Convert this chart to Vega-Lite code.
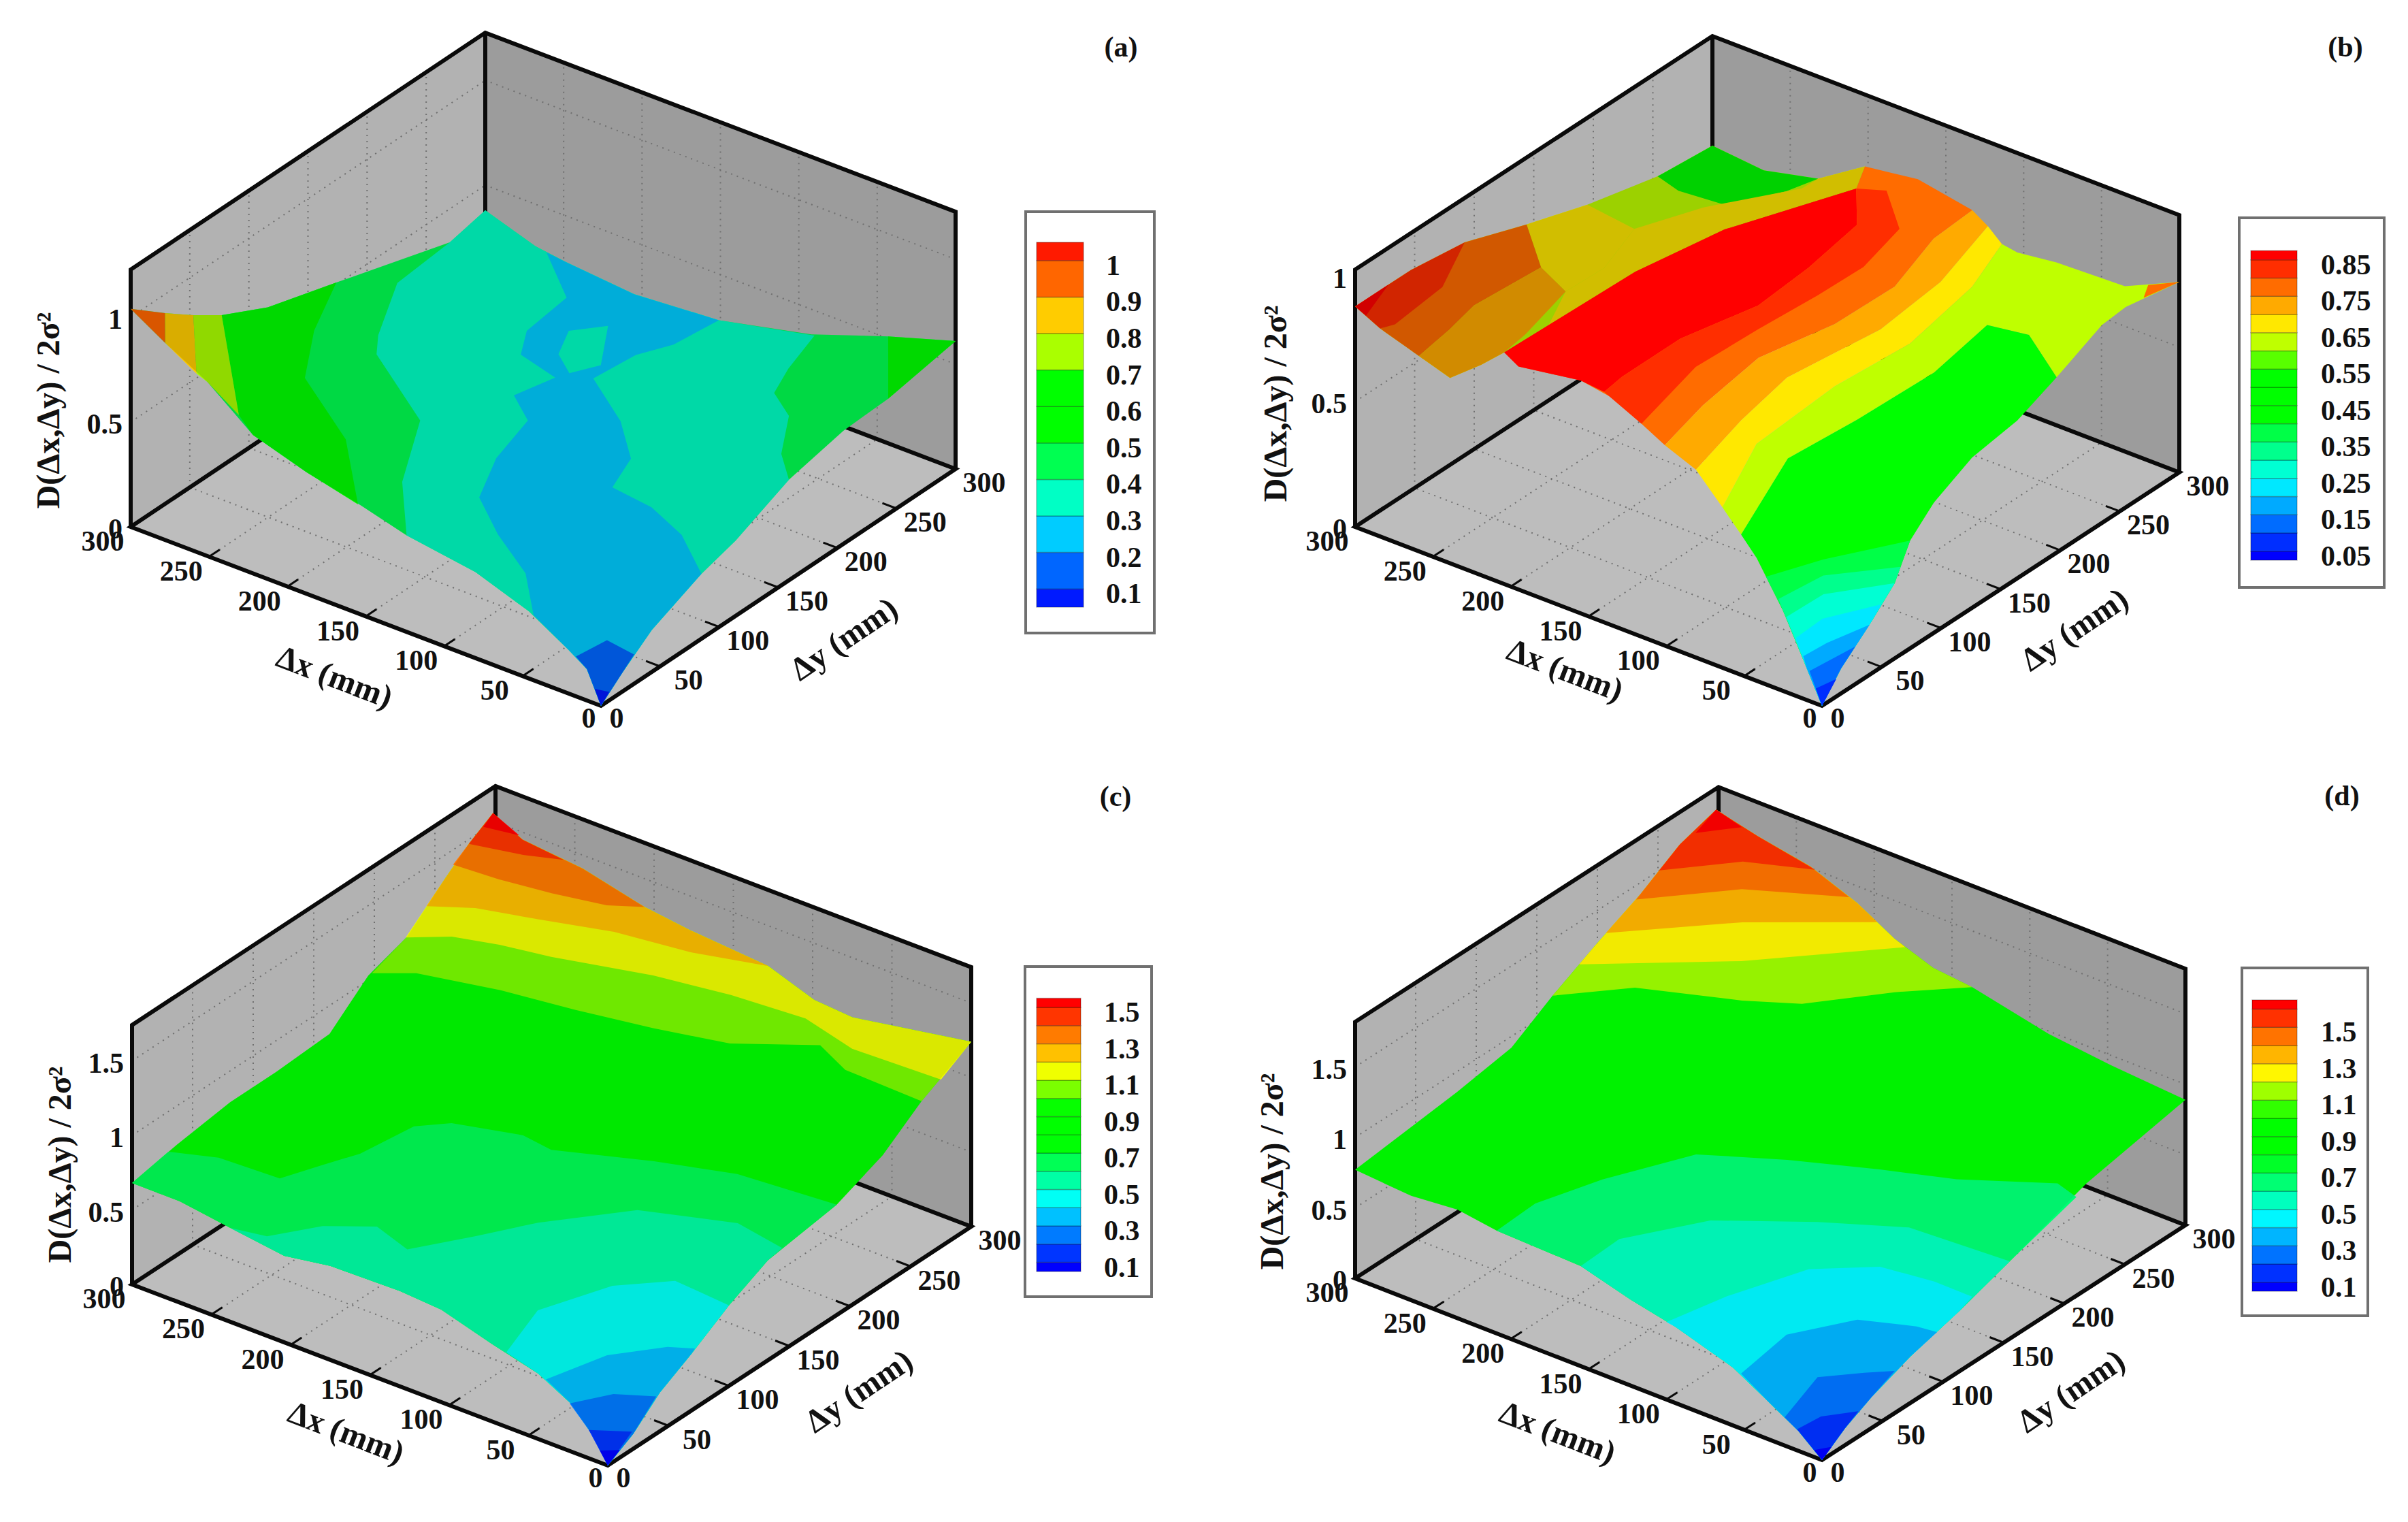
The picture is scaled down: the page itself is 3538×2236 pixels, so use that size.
{"$schema":"https://vega.github.io/schema/vega-lite/v6.json","autosize":{"type":"fit","contains":"padding"},"width":3538,"height":2236,"padding":0,"background":"white","config":{"view":{"stroke":null},"text":{"font":"Liberation Serif","fontWeight":"bold","color":"#111"}},
"params":[{"name":"P","value":{
"a":{"ox":883,"oy":1037,"xx":-691,"xy":-263,"yx":521,"yy":-348,"u":308,"zt":1.227,"tlo":0.05,"thi":1.05,"bx":1507,"bx2":1696,"by":311,"by2":930,"lx":1523,"lx2":1592,"l0":892,"lv":0.05,"lk":536,"tx":1625,"tagx":1647,"tagy":70,"xtx":491,"xty":996,"ytx":1241,"yty":940,"ztx":73,"zty":603},
"b":{"ox":2677,"oy":1037,"xx":-686,"xy":-263,"yx":525,"yy":-343,"u":368,"zt":1.027,"tlo":0.0375,"thi":0.8625,"bx":3290,"bx2":3503,"by":320,"by2":863,"lx":3307,"lx2":3375,"l0":823,"lv":0.025,"lk":535,"tx":3410,"tagx":3446,"tagy":70,"xtx":2299,"xty":986,"ytx":3049,"yty":926,"ztx":1876,"zty":593},
"c":{"ox":893,"oy":2153,"xx":-699,"xy":-266,"yx":534,"yy":-351,"u":219,"zt":1.74,"tlo":0.075,"thi":1.525,"bx":1506,"bx2":1692,"by":1420,"by2":1905,"lx":1523,"lx2":1588,"l0":1868,"lv":0.05,"lk":267.6,"tx":1622,"tagx":1639,"tagy":1171,"xtx":508,"xty":2106,"ytx":1263,"yty":2045,"ztx":90,"zty":1711},
"d":{"ox":2677,"oy":2145,"xx":-686,"xy":-267,"yx":534,"yy":-345,"u":207,"zt":1.82,"tlo":0.075,"thi":1.625,"bx":3294,"bx2":3479,"by":1422,"by2":1933,"lx":3309,"lx2":3375,"l0":1897,"lv":0.05,"lk":267.5,"tx":3410,"tagx":3441,"tagy":1170,"xtx":2288,"xty":2106,"ytx":3044,"yty":2045,"ztx":1871,"zty":1721}}}],
"datasets":{
"panels":[{"p":"a","tag":"(a)"},{"p":"b","tag":"(b)"},{"p":"c","tag":"(c)"},{"p":"d","tag":"(d)"}],
"shades":[{"g":"a01","k":0.15},{"g":"b01","k":0.18},{"g":"c01","k":0.09},{"g":"d01","k":0.05}],
"walls":[{"w":"floor","dx":0,"dy":0,"h":0},{"w":"floor","dx":300,"dy":0,"h":0},{"w":"floor","dx":300,"dy":300,"h":0},{"w":"floor","dx":0,"dy":300,"h":0},{"w":"left","dx":300,"dy":0,"h":0},{"w":"left","dx":300,"dy":300,"h":0},{"w":"left","dx":300,"dy":300,"h":1},{"w":"left","dx":300,"dy":0,"h":1},{"w":"right","dx":0,"dy":300,"h":0},{"w":"right","dx":300,"dy":300,"h":0},{"w":"right","dx":300,"dy":300,"h":1},{"w":"right","dx":0,"dy":300,"h":1}],
"edges":[{"w":"e1","dx":300,"dy":300,"h":0},{"w":"e1","dx":300,"dy":0,"h":0},{"w":"e1","dx":0,"dy":0,"h":0},{"w":"e1","dx":0,"dy":300,"h":0},{"w":"e1","dx":300,"dy":300,"h":0},{"w":"e1","dx":300,"dy":300,"h":1},{"w":"e2","dx":300,"dy":0,"h":0},{"w":"e2","dx":300,"dy":0,"h":1},{"w":"e2","dx":300,"dy":300,"h":1},{"w":"e2","dx":0,"dy":300,"h":1},{"w":"e2","dx":0,"dy":300,"h":0}],
"grid":[{"a":50,"b":0,"e":50,"f":300},{"a":100,"b":0,"e":100,"f":300},{"a":150,"b":0,"e":150,"f":300},{"a":200,"b":0,"e":200,"f":300},{"a":250,"b":0,"e":250,"f":300},{"a":0,"b":50,"e":300,"f":50},{"a":0,"b":100,"e":300,"f":100},{"a":0,"b":150,"e":300,"f":150},{"a":0,"b":200,"e":300,"f":200},{"a":0,"b":250,"e":300,"f":250},{"a":300,"b":50,"e":300,"f":50,"t":1},{"a":300,"b":100,"e":300,"f":100,"t":1},{"a":300,"b":150,"e":300,"f":150,"t":1},{"a":300,"b":200,"e":300,"f":200,"t":1},{"a":300,"b":250,"e":300,"f":250,"t":1},{"a":50,"b":300,"e":50,"f":300,"t":1},{"a":100,"b":300,"e":100,"f":300,"t":1},{"a":150,"b":300,"e":150,"f":300,"t":1},{"a":200,"b":300,"e":200,"f":300,"t":1},{"a":250,"b":300,"e":250,"f":300,"t":1}],
"zgrid":[{"p":"a","v":0.5},{"p":"a","v":1},{"p":"b","v":0.5},{"p":"c","v":0.5},{"p":"c","v":1},{"p":"c","v":1.5},{"p":"d","v":0.5},{"p":"d","v":1},{"p":"d","v":1.5}],
"ticks":[{"a":50,"b":0,"e":50,"f":9},{"a":100,"b":0,"e":100,"f":9},{"a":150,"b":0,"e":150,"f":9},{"a":200,"b":0,"e":200,"f":9},{"a":250,"b":0,"e":250,"f":9},{"a":0,"b":50,"e":9,"f":50},{"a":0,"b":100,"e":9,"f":100},{"a":0,"b":150,"e":9,"f":150},{"a":0,"b":200,"e":9,"f":200},{"a":0,"b":250,"e":9,"f":250}],
"axlab":[{"ax":"n","v":50},{"ax":"n","v":100},{"ax":"n","v":150},{"ax":"n","v":200},{"ax":"n","v":250},{"ax":"n","v":300}],
"zlab":[{"p":"a","v":0},{"p":"a","v":0.5},{"p":"a","v":1},{"p":"b","v":0},{"p":"b","v":0.5},{"p":"b","v":1},{"p":"c","v":0},{"p":"c","v":0.5},{"p":"c","v":1},{"p":"c","v":1.5},{"p":"d","v":0},{"p":"d","v":0.5},{"p":"d","v":1},{"p":"d","v":1.5}],
"titles":[{"p":"a","k":"x","t":"Δx (mm)"},{"p":"b","k":"x","t":"Δx (mm)"},{"p":"c","k":"x","t":"Δx (mm)"},{"p":"d","k":"x","t":"Δx (mm)"},{"p":"a","k":"y","t":"Δy (mm)"},{"p":"b","k":"y","t":"Δy (mm)"},{"p":"c","k":"y","t":"Δy (mm)"},{"p":"d","k":"y","t":"Δy (mm)"},{"p":"a","k":"z","t":"D(Δx,Δy) / 2σ²"},{"p":"b","k":"z","t":"D(Δx,Δy) / 2σ²"},{"p":"c","k":"z","t":"D(Δx,Δy) / 2σ²"},{"p":"d","k":"z","t":"D(Δx,Δy) / 2σ²"}],
"legband":[{"p":"a","lo":0.05,"hi":0.1},{"p":"a","lo":0.1,"hi":0.2},{"p":"a","lo":0.2,"hi":0.3},{"p":"a","lo":0.3,"hi":0.4},{"p":"a","lo":0.4,"hi":0.5},{"p":"a","lo":0.5,"hi":0.6},{"p":"a","lo":0.6,"hi":0.7},{"p":"a","lo":0.7,"hi":0.8},{"p":"a","lo":0.8,"hi":0.9},{"p":"a","lo":0.9,"hi":1},{"p":"a","lo":1,"hi":1.05},
{"p":"b","lo":0.025,"hi":0.05},{"p":"b","lo":0.05,"hi":0.1},{"p":"b","lo":0.1,"hi":0.15},{"p":"b","lo":0.15,"hi":0.2},{"p":"b","lo":0.2,"hi":0.25},{"p":"b","lo":0.25,"hi":0.3},{"p":"b","lo":0.3,"hi":0.35},{"p":"b","lo":0.35,"hi":0.4},{"p":"b","lo":0.4,"hi":0.45},{"p":"b","lo":0.45,"hi":0.5},{"p":"b","lo":0.5,"hi":0.55},{"p":"b","lo":0.55,"hi":0.6},{"p":"b","lo":0.6,"hi":0.65},{"p":"b","lo":0.65,"hi":0.7},{"p":"b","lo":0.7,"hi":0.75},{"p":"b","lo":0.75,"hi":0.8},{"p":"b","lo":0.8,"hi":0.85},{"p":"b","lo":0.85,"hi":0.875},
{"p":"c","lo":0.05,"hi":0.1},{"p":"c","lo":0.1,"hi":0.2},{"p":"c","lo":0.2,"hi":0.3},{"p":"c","lo":0.3,"hi":0.4},{"p":"c","lo":0.4,"hi":0.5},{"p":"c","lo":0.5,"hi":0.6},{"p":"c","lo":0.6,"hi":0.7},{"p":"c","lo":0.7,"hi":0.8},{"p":"c","lo":0.8,"hi":0.9},{"p":"c","lo":0.9,"hi":1},{"p":"c","lo":1,"hi":1.1},{"p":"c","lo":1.1,"hi":1.2},{"p":"c","lo":1.2,"hi":1.3},{"p":"c","lo":1.3,"hi":1.4},{"p":"c","lo":1.4,"hi":1.5},{"p":"c","lo":1.5,"hi":1.55},
{"p":"d","lo":0.05,"hi":0.1},{"p":"d","lo":0.1,"hi":0.2},{"p":"d","lo":0.2,"hi":0.3},{"p":"d","lo":0.3,"hi":0.4},{"p":"d","lo":0.4,"hi":0.5},{"p":"d","lo":0.5,"hi":0.6},{"p":"d","lo":0.6,"hi":0.7},{"p":"d","lo":0.7,"hi":0.8},{"p":"d","lo":0.8,"hi":0.9},{"p":"d","lo":0.9,"hi":1},{"p":"d","lo":1,"hi":1.1},{"p":"d","lo":1.1,"hi":1.2},{"p":"d","lo":1.2,"hi":1.3},{"p":"d","lo":1.3,"hi":1.4},{"p":"d","lo":1.4,"hi":1.5},{"p":"d","lo":1.5,"hi":1.6},{"p":"d","lo":1.6,"hi":1.65}],
"leglab":[{"p":"a","v":0.1},{"p":"a","v":0.2},{"p":"a","v":0.3},{"p":"a","v":0.4},{"p":"a","v":0.5},{"p":"a","v":0.6},{"p":"a","v":0.7},{"p":"a","v":0.8},{"p":"a","v":0.9},{"p":"a","v":1},{"p":"b","v":0.05},{"p":"b","v":0.15},{"p":"b","v":0.25},{"p":"b","v":0.35},{"p":"b","v":0.45},{"p":"b","v":0.55},{"p":"b","v":0.65},{"p":"b","v":0.75},{"p":"b","v":0.85},{"p":"c","v":0.1},{"p":"c","v":0.3},{"p":"c","v":0.5},{"p":"c","v":0.7},{"p":"c","v":0.9},{"p":"c","v":1.1},{"p":"c","v":1.3},{"p":"c","v":1.5},{"p":"d","v":0.1},{"p":"d","v":0.3},{"p":"d","v":0.5},{"p":"d","v":0.7},{"p":"d","v":0.9},{"p":"d","v":1.1},{"p":"d","v":1.3},{"p":"d","v":1.5}],
"polys":[{"g":"a01","band":0.45},{"g":"a02","band":0.55},{"g":"a03","band":0.75},{"g":"a04","band":0.85},{"g":"a05","band":0.95},{"g":"a06","band":0.55},{"g":"a07","band":0.35},{"g":"a08","band":0.25},{"g":"a09","band":0.35},{"g":"a10","band":0.15},{"g":"a11","band":0.075},
{"g":"b01","band":0.625},{"g":"b02","band":0.525},{"g":"b03","band":0.675},{"g":"b04","band":0.675},{"g":"b05","band":0.775},{"g":"b06","band":0.825},{"g":"b07","band":0.8625},{"g":"b08","band":0.725},{"g":"b09","band":0.775},{"g":"b10","band":0.8625},{"g":"b11","band":0.825},{"g":"b12","band":0.725},{"g":"b13","band":0.675},{"g":"b14","band":0.625},{"g":"b15","band":0.775},{"g":"b16","band":0.525},{"g":"b17","band":0.375},{"g":"b18","band":0.325},{"g":"b19","band":0.275},{"g":"b20","band":0.225},{"g":"b21","band":0.175},{"g":"b22","band":0.125},{"g":"b23","band":0.075},
{"g":"c01","band":0.85},{"g":"c02","band":1.05},{"g":"c03","band":1.15},{"g":"c04","band":1.25},{"g":"c05","band":1.35},{"g":"c06","band":1.45},{"g":"c07","band":1.525},{"g":"c08","band":0.65},{"g":"c09","band":0.55},{"g":"c10","band":0.45},{"g":"c11","band":0.35},{"g":"c12","band":0.25},{"g":"c13","band":0.15},{"g":"c14","band":0.075},
{"g":"d01","band":0.9},{"g":"d02","band":1.15},{"g":"d03","band":1.25},{"g":"d04","band":1.35},{"g":"d05","band":1.45},{"g":"d06","band":1.55},{"g":"d07","band":1.63},{"g":"d08","band":0.65},{"g":"d09","band":0.55},{"g":"d10","band":0.45},{"g":"d11","band":0.35},{"g":"d12","band":0.25},{"g":"d13","band":0.15},{"g":"d14","band":0.075}],
"surface":[
{"g":"a01","dx":0,"dy":0,"D":0},{"g":"a01","dx":9,"dy":0,"D":0.15},{"g":"a01","dx":21,"dy":0,"D":0.21},{"g":"a01","dx":46,"dy":0,"D":0.32},{"g":"a01","dx":80,"dy":0,"D":0.41},{"g":"a01","dx":124,"dy":0,"D":0.46},{"g":"a01","dx":153,"dy":0,"D":0.52},{"g":"a01","dx":188,"dy":0,"D":0.58},{"g":"a01","dx":222,"dy":0,"D":0.66},{"g":"a01","dx":251,"dy":0,"D":0.83},{"g":"a01","dx":278,"dy":0,"D":0.94},{"g":"a01","dx":300,"dy":0,"D":1.04},{"g":"a01","dx":300,"dy":29,"D":0.91},{"g":"a01","dx":300,"dy":53,"D":0.81},{"g":"a01","dx":300,"dy":77,"D":0.72},{"g":"a01","dx":300,"dy":116,"D":0.61},{"g":"a01","dx":300,"dy":174,"D":0.51},{"g":"a01","dx":300,"dy":270,"D":0.34},{"g":"a01","dx":300,"dy":300,"D":0.38},{"g":"a01","dx":268,"dy":300,"D":0.3},{"g":"a01","dx":249,"dy":300,"D":0.28},{"g":"a01","dx":205,"dy":300,"D":0.25},{"g":"a01","dx":151,"dy":300,"D":0.28},{"g":"a01","dx":92,"dy":300,"D":0.38},{"g":"a01","dx":43,"dy":300,"D":0.51},{"g":"a01","dx":0,"dy":300,"D":0.61},{"g":"a01","dx":0,"dy":243,"D":0.55},{"g":"a01","dx":0,"dy":205,"D":0.54},{"g":"a01","dx":0,"dy":159,"D":0.48},{"g":"a01","dx":0,"dy":114,"D":0.36},{"g":"a01","dx":0,"dy":85,"D":0.31},{"g":"a01","dx":0,"dy":43,"D":0.2},{"g":"a01","dx":0,"dy":18,"D":0.09},
{"g":"a02","dx":300,"dy":174,"D":0.51},{"g":"a02","dx":281,"dy":130,"D":0.5},{"g":"a02","dx":256,"dy":89,"D":0.5},{"g":"a02","dx":202,"dy":52,"D":0.5},{"g":"a02","dx":155,"dy":0,"D":0.52},{"g":"a02","dx":188,"dy":0,"D":0.58},{"g":"a02","dx":222,"dy":0,"D":0.66},{"g":"a02","dx":231,"dy":0,"D":0.73},{"g":"a02","dx":300,"dy":77,"D":0.72},{"g":"a02","dx":300,"dy":116,"D":0.61},
{"g":"a03","dx":231,"dy":0,"D":0.73},{"g":"a03","dx":251,"dy":0,"D":0.83},{"g":"a03","dx":258,"dy":0,"D":0.85},{"g":"a03","dx":300,"dy":53,"D":0.81},{"g":"a03","dx":300,"dy":77,"D":0.72},
{"g":"a04","dx":258,"dy":0,"D":0.85},{"g":"a04","dx":278,"dy":0,"D":0.94},{"g":"a04","dx":300,"dy":29,"D":0.91},{"g":"a04","dx":300,"dy":53,"D":0.81},
{"g":"a05","dx":278,"dy":0,"D":0.94},{"g":"a05","dx":300,"dy":0,"D":1.04},{"g":"a05","dx":300,"dy":29,"D":0.91},
{"g":"a06","dx":43,"dy":300,"D":0.51},{"g":"a06","dx":0,"dy":300,"D":0.61},{"g":"a06","dx":0,"dy":243,"D":0.55},
{"g":"a07","dx":300,"dy":270,"D":0.34},{"g":"a07","dx":289,"dy":211,"D":0.4},{"g":"a07","dx":265,"dy":163,"D":0.4},{"g":"a07","dx":254,"dy":147,"D":0.4},{"g":"a07","dx":196,"dy":107,"D":0.4},{"g":"a07","dx":166,"dy":52,"D":0.4},{"g":"a07","dx":124,"dy":0,"D":0.46},{"g":"a07","dx":80,"dy":0,"D":0.41},{"g":"a07","dx":46,"dy":0,"D":0.32},{"g":"a07","dx":21,"dy":0,"D":0.21},{"g":"a07","dx":9,"dy":0,"D":0.15},{"g":"a07","dx":0,"dy":0,"D":0},{"g":"a07","dx":0,"dy":18,"D":0.09},{"g":"a07","dx":0,"dy":43,"D":0.2},{"g":"a07","dx":0,"dy":85,"D":0.31},{"g":"a07","dx":0,"dy":114,"D":0.36},{"g":"a07","dx":0,"dy":159,"D":0.48},{"g":"a07","dx":29,"dy":191,"D":0.4},{"g":"a07","dx":49,"dy":224,"D":0.4},{"g":"a07","dx":69,"dy":238,"D":0.4},{"g":"a07","dx":78,"dy":262,"D":0.4},{"g":"a07","dx":90,"dy":300,"D":0.38},{"g":"a07","dx":151,"dy":300,"D":0.28},{"g":"a07","dx":205,"dy":300,"D":0.25},{"g":"a07","dx":249,"dy":300,"D":0.28},{"g":"a07","dx":268,"dy":300,"D":0.3},{"g":"a07","dx":300,"dy":300,"D":0.38},
{"g":"a08","dx":261,"dy":300,"D":0.29},{"g":"a08","dx":224,"dy":268,"D":0.3},{"g":"a08","dx":220,"dy":229,"D":0.3},{"g":"a08","dx":208,"dy":208,"D":0.3},{"g":"a08","dx":180,"dy":200,"D":0.3},{"g":"a08","dx":186,"dy":173,"D":0.3},{"g":"a08","dx":165,"dy":157,"D":0.3},{"g":"a08","dx":155,"dy":117,"D":0.3},{"g":"a08","dx":138,"dy":80,"D":0.3},{"g":"a08","dx":108,"dy":56,"D":0.3},{"g":"a08","dx":73,"dy":33,"D":0.3},{"g":"a08","dx":43,"dy":0,"D":0.31},{"g":"a08","dx":21,"dy":0,"D":0.21},{"g":"a08","dx":9,"dy":0,"D":0.15},{"g":"a08","dx":0,"dy":0,"D":0},{"g":"a08","dx":0,"dy":18,"D":0.09},{"g":"a08","dx":0,"dy":43,"D":0.2},{"g":"a08","dx":0,"dy":85,"D":0.31},{"g":"a08","dx":33,"dy":112,"D":0.3},{"g":"a08","dx":62,"dy":125,"D":0.3},{"g":"a08","dx":90,"dy":129,"D":0.3},{"g":"a08","dx":100,"dy":158,"D":0.3},{"g":"a08","dx":127,"dy":185,"D":0.3},{"g":"a08","dx":164,"dy":211,"D":0.3},{"g":"a08","dx":161,"dy":243,"D":0.3},{"g":"a08","dx":152,"dy":263,"D":0.3},{"g":"a08","dx":151,"dy":300,"D":0.28},{"g":"a08","dx":205,"dy":300,"D":0.25},{"g":"a08","dx":249,"dy":300,"D":0.28},
{"g":"a09","dx":203,"dy":242,"D":0.3},{"g":"a09","dx":190,"dy":258,"D":0.3},{"g":"a09","dx":169,"dy":224,"D":0.3},{"g":"a09","dx":177,"dy":208,"D":0.3},{"g":"a09","dx":193,"dy":220,"D":0.3},
{"g":"a10","dx":16,"dy":0,"D":0.19},{"g":"a10","dx":12,"dy":21,"D":0.2},{"g":"a10","dx":0,"dy":28,"D":0.14},{"g":"a10","dx":0,"dy":18,"D":0.09},{"g":"a10","dx":0,"dy":0,"D":0},{"g":"a10","dx":9,"dy":0,"D":0.15},
{"g":"a11","dx":4,"dy":0,"D":0.07},{"g":"a11","dx":0,"dy":7,"D":0.04},{"g":"a11","dx":0,"dy":0,"D":0},
{"g":"b01","dx":300,"dy":0,"D":0.88},{"g":"b01","dx":300,"dy":47,"D":0.88},{"g":"b01","dx":300,"dy":92,"D":0.85},{"g":"b01","dx":300,"dy":144,"D":0.76},{"g":"b01","dx":300,"dy":195,"D":0.68},{"g":"b01","dx":300,"dy":254,"D":0.61},{"g":"b01","dx":300,"dy":300,"D":0.59},{"g":"b01","dx":267,"dy":300,"D":0.57},{"g":"b01","dx":232,"dy":300,"D":0.62},{"g":"b01","dx":202,"dy":300,"D":0.74},{"g":"b01","dx":167,"dy":247,"D":0.9},{"g":"b01","dx":195,"dy":173,"D":0.9},{"g":"b01","dx":205,"dy":111,"D":0.9},{"g":"b01","dx":207,"dy":41,"D":0.9},{"g":"b01","dx":208,"dy":5,"D":0.9},{"g":"b01","dx":219,"dy":0,"D":0.84},{"g":"b01","dx":239,"dy":0,"D":0.74},{"g":"b01","dx":259,"dy":0,"D":0.78},{"g":"b01","dx":284,"dy":0,"D":0.83},
{"g":"b02","dx":300,"dy":254,"D":0.61},{"g":"b02","dx":300,"dy":300,"D":0.59},{"g":"b02","dx":267,"dy":300,"D":0.57},{"g":"b02","dx":232,"dy":300,"D":0.62},{"g":"b02","dx":248,"dy":294,"D":0.55},{"g":"b02","dx":264,"dy":264,"D":0.55},{"g":"b02","dx":292,"dy":261,"D":0.55},
{"g":"b03","dx":300,"dy":144,"D":0.76},{"g":"b03","dx":300,"dy":195,"D":0.68},{"g":"b03","dx":266,"dy":190,"D":0.68},{"g":"b03","dx":254,"dy":149,"D":0.68},{"g":"b03","dx":255,"dy":118,"D":0.68},{"g":"b03","dx":280,"dy":130,"D":0.68},
{"g":"b04","dx":255,"dy":118,"D":0.68},{"g":"b04","dx":254,"dy":149,"D":0.68},{"g":"b04","dx":266,"dy":190,"D":0.68},{"g":"b04","dx":256,"dy":235,"D":0.65},{"g":"b04","dx":228,"dy":281,"D":0.65},{"g":"b04","dx":232,"dy":300,"D":0.62},{"g":"b04","dx":202,"dy":300,"D":0.74},{"g":"b04","dx":167,"dy":247,"D":0.9},{"g":"b04","dx":195,"dy":173,"D":0.9},{"g":"b04","dx":205,"dy":111,"D":0.9},{"g":"b04","dx":207,"dy":41,"D":0.9},
{"g":"b05","dx":300,"dy":92,"D":0.85},{"g":"b05","dx":300,"dy":144,"D":0.76},{"g":"b05","dx":280,"dy":130,"D":0.68},{"g":"b05","dx":268,"dy":58,"D":0.78},{"g":"b05","dx":263,"dy":31,"D":0.78},{"g":"b05","dx":259,"dy":0,"D":0.78},{"g":"b05","dx":284,"dy":0,"D":0.83},
{"g":"b06","dx":300,"dy":0,"D":0.88},{"g":"b06","dx":300,"dy":47,"D":0.88},{"g":"b06","dx":300,"dy":92,"D":0.85},{"g":"b06","dx":286,"dy":55,"D":0.82},{"g":"b06","dx":282,"dy":10,"D":0.82},{"g":"b06","dx":284,"dy":0,"D":0.83},
{"g":"b07","dx":300,"dy":0,"D":0.88},{"g":"b07","dx":300,"dy":28,"D":0.88},{"g":"b07","dx":293,"dy":0,"D":0.86},
{"g":"b08","dx":259,"dy":0,"D":0.78},{"g":"b08","dx":239,"dy":0,"D":0.74},{"g":"b08","dx":219,"dy":0,"D":0.84},{"g":"b08","dx":208,"dy":5,"D":0.9},{"g":"b08","dx":234,"dy":57,"D":0.75},{"g":"b08","dx":255,"dy":118,"D":0.68},{"g":"b08","dx":280,"dy":130,"D":0.68},{"g":"b08","dx":268,"dy":58,"D":0.78},{"g":"b08","dx":263,"dy":31,"D":0.78},
{"g":"b09","dx":208,"dy":5,"D":0.9},{"g":"b09","dx":207,"dy":41,"D":0.9},{"g":"b09","dx":205,"dy":111,"D":0.9},{"g":"b09","dx":195,"dy":173,"D":0.9},{"g":"b09","dx":167,"dy":247,"D":0.9},{"g":"b09","dx":202,"dy":300,"D":0.74},{"g":"b09","dx":168,"dy":300,"D":0.77},{"g":"b09","dx":133,"dy":300,"D":0.73},{"g":"b09","dx":128,"dy":261,"D":0.75},{"g":"b09","dx":114,"dy":210,"D":0.75},{"g":"b09","dx":115,"dy":161,"D":0.75},{"g":"b09","dx":125,"dy":110,"D":0.75},{"g":"b09","dx":118,"dy":54,"D":0.75},{"g":"b09","dx":101,"dy":0,"D":0.8},{"g":"b09","dx":116,"dy":0,"D":0.85},{"g":"b09","dx":136,"dy":0,"D":0.91},{"g":"b09","dx":155,"dy":0,"D":0.93},{"g":"b09","dx":195,"dy":0,"D":0.89},
{"g":"b10","dx":208,"dy":5,"D":0.9},{"g":"b10","dx":207,"dy":41,"D":0.9},{"g":"b10","dx":205,"dy":111,"D":0.9},{"g":"b10","dx":195,"dy":173,"D":0.9},{"g":"b10","dx":167,"dy":247,"D":0.9},{"g":"b10","dx":152,"dy":228,"D":0.85},{"g":"b10","dx":145,"dy":178,"D":0.85},{"g":"b10","dx":142,"dy":132,"D":0.85},{"g":"b10","dx":153,"dy":81,"D":0.85},{"g":"b10","dx":153,"dy":32,"D":0.85},{"g":"b10","dx":140,"dy":0,"D":0.92},{"g":"b10","dx":155,"dy":0,"D":0.93},{"g":"b10","dx":195,"dy":0,"D":0.89},
{"g":"b11","dx":167,"dy":247,"D":0.9},{"g":"b11","dx":152,"dy":228,"D":0.85},{"g":"b11","dx":145,"dy":178,"D":0.85},{"g":"b11","dx":142,"dy":132,"D":0.85},{"g":"b11","dx":153,"dy":81,"D":0.85},{"g":"b11","dx":153,"dy":32,"D":0.85},{"g":"b11","dx":140,"dy":0,"D":0.92},{"g":"b11","dx":116,"dy":0,"D":0.85},{"g":"b11","dx":137,"dy":73,"D":0.8},{"g":"b11","dx":135,"dy":123,"D":0.8},{"g":"b11","dx":132,"dy":169,"D":0.8},{"g":"b11","dx":131,"dy":206,"D":0.8},{"g":"b11","dx":140,"dy":248,"D":0.8},{"g":"b11","dx":169,"dy":275,"D":0.8},
{"g":"b12","dx":133,"dy":300,"D":0.73},{"g":"b12","dx":128,"dy":261,"D":0.75},{"g":"b12","dx":114,"dy":210,"D":0.75},{"g":"b12","dx":115,"dy":161,"D":0.75},{"g":"b12","dx":125,"dy":110,"D":0.75},{"g":"b12","dx":118,"dy":54,"D":0.75},{"g":"b12","dx":101,"dy":0,"D":0.8},{"g":"b12","dx":81,"dy":0,"D":0.75},{"g":"b12","dx":101,"dy":64,"D":0.7},{"g":"b12","dx":109,"dy":113,"D":0.7},{"g":"b12","dx":101,"dy":181,"D":0.7},{"g":"b12","dx":106,"dy":238,"D":0.7},{"g":"b12","dx":123,"dy":300,"D":0.69},
{"g":"b13","dx":123,"dy":300,"D":0.69},{"g":"b13","dx":106,"dy":238,"D":0.7},{"g":"b13","dx":101,"dy":181,"D":0.7},{"g":"b13","dx":109,"dy":113,"D":0.7},{"g":"b13","dx":101,"dy":64,"D":0.7},{"g":"b13","dx":81,"dy":0,"D":0.75},{"g":"b13","dx":64,"dy":0,"D":0.64},{"g":"b13","dx":88,"dy":60,"D":0.65},{"g":"b13","dx":92,"dy":131,"D":0.65},{"g":"b13","dx":88,"dy":189,"D":0.65},{"g":"b13","dx":98,"dy":254,"D":0.65},{"g":"b13","dx":114,"dy":300,"D":0.64},
{"g":"b14","dx":114,"dy":300,"D":0.64},{"g":"b14","dx":98,"dy":254,"D":0.65},{"g":"b14","dx":88,"dy":189,"D":0.65},{"g":"b14","dx":92,"dy":131,"D":0.65},{"g":"b14","dx":88,"dy":60,"D":0.65},{"g":"b14","dx":64,"dy":0,"D":0.64},{"g":"b14","dx":52,"dy":0,"D":0.56},{"g":"b14","dx":74,"dy":68,"D":0.6},{"g":"b14","dx":70,"dy":121,"D":0.6},{"g":"b14","dx":68,"dy":183,"D":0.6},{"g":"b14","dx":76,"dy":238,"D":0.6},{"g":"b14","dx":53,"dy":243,"D":0.6},{"g":"b14","dx":0,"dy":197,"D":0.7},{"g":"b14","dx":0,"dy":235,"D":0.79},{"g":"b14","dx":0,"dy":255,"D":0.8},{"g":"b14","dx":0,"dy":300,"D":0.76},{"g":"b14","dx":35,"dy":300,"D":0.66},{"g":"b14","dx":79,"dy":300,"D":0.65},{"g":"b14","dx":104,"dy":300,"D":0.63},
{"g":"b15","dx":0,"dy":300,"D":0.76},{"g":"b15","dx":0,"dy":270,"D":0.79},{"g":"b15","dx":20,"dy":300,"D":0.7},
{"g":"b16","dx":52,"dy":0,"D":0.56},{"g":"b16","dx":74,"dy":68,"D":0.6},{"g":"b16","dx":70,"dy":121,"D":0.6},{"g":"b16","dx":68,"dy":183,"D":0.6},{"g":"b16","dx":76,"dy":238,"D":0.6},{"g":"b16","dx":53,"dy":243,"D":0.6},{"g":"b16","dx":0,"dy":197,"D":0.7},{"g":"b16","dx":0,"dy":164,"D":0.63},{"g":"b16","dx":0,"dy":126,"D":0.6},{"g":"b16","dx":0,"dy":94,"D":0.52},{"g":"b16","dx":0,"dy":74,"D":0.43},{"g":"b16","dx":0,"dy":61,"D":0.3},{"g":"b16","dx":0,"dy":42,"D":0.21},{"g":"b16","dx":0,"dy":16,"D":0.1},{"g":"b16","dx":0,"dy":0,"D":0},{"g":"b16","dx":10,"dy":0,"D":0.13},{"g":"b16","dx":25,"dy":0,"D":0.32},{"g":"b16","dx":42,"dy":0,"D":0.49},
{"g":"b17","dx":36,"dy":0,"D":0.43},{"g":"b17","dx":28,"dy":38,"D":0.4},{"g":"b17","dx":0,"dy":74,"D":0.43},{"g":"b17","dx":0,"dy":61,"D":0.3},{"g":"b17","dx":0,"dy":42,"D":0.21},{"g":"b17","dx":0,"dy":16,"D":0.1},{"g":"b17","dx":0,"dy":0,"D":0},{"g":"b17","dx":10,"dy":0,"D":0.13},{"g":"b17","dx":25,"dy":0,"D":0.32},
{"g":"b18","dx":28,"dy":0,"D":0.36},{"g":"b18","dx":26,"dy":35,"D":0.35},{"g":"b18","dx":0,"dy":66,"D":0.35},{"g":"b18","dx":0,"dy":61,"D":0.3},{"g":"b18","dx":0,"dy":42,"D":0.21},{"g":"b18","dx":0,"dy":16,"D":0.1},{"g":"b18","dx":0,"dy":0,"D":0},{"g":"b18","dx":10,"dy":0,"D":0.13},{"g":"b18","dx":25,"dy":0,"D":0.32},
{"g":"b19","dx":23,"dy":0,"D":0.3},{"g":"b19","dx":22,"dy":30,"D":0.3},{"g":"b19","dx":0,"dy":61,"D":0.3},{"g":"b19","dx":0,"dy":42,"D":0.21},{"g":"b19","dx":0,"dy":16,"D":0.1},{"g":"b19","dx":0,"dy":0,"D":0},{"g":"b19","dx":10,"dy":0,"D":0.13},
{"g":"b20","dx":17,"dy":0,"D":0.23},{"g":"b20","dx":15,"dy":20,"D":0.25},{"g":"b20","dx":0,"dy":50,"D":0.25},{"g":"b20","dx":0,"dy":42,"D":0.21},{"g":"b20","dx":0,"dy":16,"D":0.1},{"g":"b20","dx":0,"dy":0,"D":0},{"g":"b20","dx":10,"dy":0,"D":0.13},
{"g":"b21","dx":12,"dy":0,"D":0.17},{"g":"b21","dx":6,"dy":12,"D":0.2},{"g":"b21","dx":0,"dy":40,"D":0.2},{"g":"b21","dx":0,"dy":16,"D":0.1},{"g":"b21","dx":0,"dy":0,"D":0},{"g":"b21","dx":10,"dy":0,"D":0.13},
{"g":"b22","dx":8,"dy":0,"D":0.12},{"g":"b22","dx":0,"dy":28,"D":0.15},{"g":"b22","dx":0,"dy":16,"D":0.1},{"g":"b22","dx":0,"dy":0,"D":0},
{"g":"b23","dx":4,"dy":0,"D":0.06},{"g":"b23","dx":0,"dy":12,"D":0.07},{"g":"b23","dx":0,"dy":0,"D":0},
{"g":"c01","dx":0,"dy":0,"D":0},{"g":"c01","dx":10,"dy":0,"D":0.17},{"g":"c01","dx":23,"dy":0,"D":0.32},{"g":"c01","dx":44,"dy":0,"D":0.44},{"g":"c01","dx":73,"dy":0,"D":0.52},{"g":"c01","dx":105,"dy":0,"D":0.62},{"g":"c01","dx":131,"dy":0,"D":0.64},{"g":"c01","dx":175,"dy":0,"D":0.63},{"g":"c01","dx":204,"dy":0,"D":0.58},{"g":"c01","dx":238,"dy":0,"D":0.63},{"g":"c01","dx":270,"dy":0,"D":0.68},{"g":"c01","dx":300,"dy":0,"D":0.68},{"g":"c01","dx":300,"dy":37,"D":0.74},{"g":"c01","dx":300,"dy":81,"D":0.79},{"g":"c01","dx":300,"dy":119,"D":0.79},{"g":"c01","dx":300,"dy":163,"D":0.81},{"g":"c01","dx":300,"dy":195,"D":1.03},{"g":"c01","dx":300,"dy":227,"D":1.12},{"g":"c01","dx":300,"dy":258,"D":1.34},{"g":"c01","dx":300,"dy":278,"D":1.47},{"g":"c01","dx":300,"dy":298,"D":1.57},{"g":"c01","dx":283,"dy":300,"D":1.45},{"g":"c01","dx":245,"dy":300,"D":1.41},{"g":"c01","dx":206,"dy":300,"D":1.31},{"g":"c01","dx":177,"dy":300,"D":1.27},{"g":"c01","dx":128,"dy":300,"D":1.23},{"g":"c01","dx":99,"dy":300,"D":1.12},{"g":"c01","dx":75,"dy":300,"D":1.1},{"g":"c01","dx":0,"dy":300,"D":1.24},{"g":"c01","dx":0,"dy":259,"D":1.06},{"g":"c01","dx":0,"dy":227,"D":0.87},{"g":"c01","dx":0,"dy":189,"D":0.74},{"g":"c01","dx":0,"dy":132,"D":0.67},{"g":"c01","dx":0,"dy":100,"D":0.54},{"g":"c01","dx":0,"dy":69,"D":0.38},{"g":"c01","dx":0,"dy":43,"D":0.26},{"g":"c01","dx":0,"dy":21,"D":0.1},
{"g":"c02","dx":300,"dy":198,"D":1.03},{"g":"c02","dx":285,"dy":215,"D":1},{"g":"c02","dx":241,"dy":227,"D":1},{"g":"c02","dx":199,"dy":234,"D":1},{"g":"c02","dx":157,"dy":243,"D":1},{"g":"c02","dx":117,"dy":254,"D":1},{"g":"c02","dx":80,"dy":280,"D":1},{"g":"c02","dx":55,"dy":268,"D":1},{"g":"c02","dx":0,"dy":259,"D":1.06},{"g":"c02","dx":0,"dy":300,"D":1.24},{"g":"c02","dx":75,"dy":300,"D":1.1},{"g":"c02","dx":99,"dy":300,"D":1.12},{"g":"c02","dx":128,"dy":300,"D":1.23},{"g":"c02","dx":177,"dy":300,"D":1.27},{"g":"c02","dx":206,"dy":300,"D":1.31},{"g":"c02","dx":245,"dy":300,"D":1.41},{"g":"c02","dx":283,"dy":300,"D":1.45},{"g":"c02","dx":300,"dy":298,"D":1.57},{"g":"c02","dx":300,"dy":278,"D":1.47},{"g":"c02","dx":300,"dy":258,"D":1.34},{"g":"c02","dx":300,"dy":227,"D":1.12},
{"g":"c03","dx":300,"dy":226,"D":1.12},{"g":"c03","dx":284,"dy":243,"D":1.1},{"g":"c03","dx":260,"dy":251,"D":1.1},{"g":"c03","dx":232,"dy":257,"D":1.1},{"g":"c03","dx":180,"dy":273,"D":1.1},{"g":"c03","dx":137,"dy":281,"D":1.1},{"g":"c03","dx":93,"dy":285,"D":1.1},{"g":"c03","dx":56,"dy":275,"D":1.1},{"g":"c03","dx":32,"dy":276,"D":1.1},{"g":"c03","dx":0,"dy":275,"D":1.12},{"g":"c03","dx":0,"dy":300,"D":1.24},{"g":"c03","dx":75,"dy":300,"D":1.1},{"g":"c03","dx":99,"dy":300,"D":1.12},{"g":"c03","dx":128,"dy":300,"D":1.23},{"g":"c03","dx":177,"dy":300,"D":1.27},{"g":"c03","dx":206,"dy":300,"D":1.31},{"g":"c03","dx":245,"dy":300,"D":1.41},{"g":"c03","dx":283,"dy":300,"D":1.45},{"g":"c03","dx":300,"dy":298,"D":1.57},{"g":"c03","dx":300,"dy":278,"D":1.47},{"g":"c03","dx":300,"dy":258,"D":1.34},
{"g":"c04","dx":300,"dy":243,"D":1.24},{"g":"c04","dx":283,"dy":261,"D":1.2},{"g":"c04","dx":251,"dy":271,"D":1.2},{"g":"c04","dx":213,"dy":284,"D":1.2},{"g":"c04","dx":170,"dy":291,"D":1.2},{"g":"c04","dx":128,"dy":300,"D":1.23},{"g":"c04","dx":177,"dy":300,"D":1.27},{"g":"c04","dx":206,"dy":300,"D":1.31},{"g":"c04","dx":245,"dy":300,"D":1.41},{"g":"c04","dx":283,"dy":300,"D":1.45},{"g":"c04","dx":300,"dy":298,"D":1.57},{"g":"c04","dx":300,"dy":278,"D":1.47},{"g":"c04","dx":300,"dy":258,"D":1.34},
{"g":"c05","dx":300,"dy":265,"D":1.4},{"g":"c05","dx":282,"dy":279,"D":1.3},{"g":"c05","dx":252,"dy":284,"D":1.3},{"g":"c05","dx":223,"dy":291,"D":1.3},{"g":"c05","dx":206,"dy":300,"D":1.31},{"g":"c05","dx":245,"dy":300,"D":1.41},{"g":"c05","dx":283,"dy":300,"D":1.45},{"g":"c05","dx":300,"dy":298,"D":1.57},{"g":"c05","dx":300,"dy":278,"D":1.47},
{"g":"c06","dx":300,"dy":278,"D":1.47},{"g":"c06","dx":278,"dy":294,"D":1.4},{"g":"c06","dx":257,"dy":300,"D":1.42},{"g":"c06","dx":283,"dy":300,"D":1.45},{"g":"c06","dx":300,"dy":298,"D":1.57},
{"g":"c07","dx":300,"dy":290,"D":1.52},{"g":"c07","dx":285,"dy":300,"D":1.47},{"g":"c07","dx":300,"dy":298,"D":1.57},
{"g":"c08","dx":300,"dy":0,"D":0.68},{"g":"c08","dx":300,"dy":30,"D":0.73},{"g":"c08","dx":279,"dy":44,"D":0.7},{"g":"c08","dx":242,"dy":46,"D":0.7},{"g":"c08","dx":233,"dy":70,"D":0.7},{"g":"c08","dx":225,"dy":90,"D":0.7},{"g":"c08","dx":220,"dy":128,"D":0.7},{"g":"c08","dx":207,"dy":142,"D":0.7},{"g":"c08","dx":171,"dy":154,"D":0.7},{"g":"c08","dx":151,"dy":151,"D":0.7},{"g":"c08","dx":103,"dy":173,"D":0.7},{"g":"c08","dx":62,"dy":188,"D":0.7},{"g":"c08","dx":0,"dy":189,"D":0.74},{"g":"c08","dx":0,"dy":132,"D":0.67},{"g":"c08","dx":0,"dy":100,"D":0.54},{"g":"c08","dx":0,"dy":69,"D":0.38},{"g":"c08","dx":0,"dy":43,"D":0.26},{"g":"c08","dx":0,"dy":21,"D":0.1},{"g":"c08","dx":0,"dy":0,"D":0},{"g":"c08","dx":10,"dy":0,"D":0.17},{"g":"c08","dx":23,"dy":0,"D":0.32},{"g":"c08","dx":44,"dy":0,"D":0.44},{"g":"c08","dx":73,"dy":0,"D":0.52},{"g":"c08","dx":105,"dy":0,"D":0.62},{"g":"c08","dx":131,"dy":0,"D":0.64},{"g":"c08","dx":175,"dy":0,"D":0.63},{"g":"c08","dx":204,"dy":0,"D":0.58},{"g":"c08","dx":238,"dy":0,"D":0.63},{"g":"c08","dx":270,"dy":0,"D":0.68},
{"g":"c09","dx":238,"dy":0,"D":0.63},{"g":"c09","dx":221,"dy":8,"D":0.6},{"g":"c09","dx":205,"dy":33,"D":0.6},{"g":"c09","dx":183,"dy":49,"D":0.6},{"g":"c09","dx":157,"dy":40,"D":0.6},{"g":"c09","dx":138,"dy":71,"D":0.6},{"g":"c09","dx":121,"dy":101,"D":0.6},{"g":"c09","dx":89,"dy":141,"D":0.6},{"g":"c09","dx":41,"dy":161,"D":0.6},{"g":"c09","dx":0,"dy":144,"D":0.69},{"g":"c09","dx":0,"dy":132,"D":0.67},{"g":"c09","dx":0,"dy":100,"D":0.54},{"g":"c09","dx":0,"dy":69,"D":0.38},{"g":"c09","dx":0,"dy":43,"D":0.26},{"g":"c09","dx":0,"dy":21,"D":0.1},{"g":"c09","dx":0,"dy":0,"D":0},{"g":"c09","dx":10,"dy":0,"D":0.17},{"g":"c09","dx":23,"dy":0,"D":0.32},{"g":"c09","dx":44,"dy":0,"D":0.44},{"g":"c09","dx":73,"dy":0,"D":0.52},{"g":"c09","dx":105,"dy":0,"D":0.62},{"g":"c09","dx":131,"dy":0,"D":0.64},{"g":"c09","dx":175,"dy":0,"D":0.63},{"g":"c09","dx":204,"dy":0,"D":0.58},
{"g":"c10","dx":64,"dy":0,"D":0.5},{"g":"c10","dx":77,"dy":43,"D":0.5},{"g":"c10","dx":62,"dy":85,"D":0.5},{"g":"c10","dx":40,"dy":108,"D":0.5},{"g":"c10","dx":0,"dy":100,"D":0.54},{"g":"c10","dx":0,"dy":69,"D":0.38},{"g":"c10","dx":0,"dy":43,"D":0.26},{"g":"c10","dx":0,"dy":21,"D":0.1},{"g":"c10","dx":0,"dy":0,"D":0},{"g":"c10","dx":10,"dy":0,"D":0.17},{"g":"c10","dx":23,"dy":0,"D":0.32},{"g":"c10","dx":44,"dy":0,"D":0.44},
{"g":"c11","dx":39,"dy":0,"D":0.42},{"g":"c11","dx":31,"dy":40,"D":0.4},{"g":"c11","dx":12,"dy":65,"D":0.4},{"g":"c11","dx":0,"dy":72,"D":0.4},{"g":"c11","dx":0,"dy":69,"D":0.38},{"g":"c11","dx":0,"dy":43,"D":0.26},{"g":"c11","dx":0,"dy":21,"D":0.1},{"g":"c11","dx":0,"dy":0,"D":0},{"g":"c11","dx":10,"dy":0,"D":0.17},{"g":"c11","dx":23,"dy":0,"D":0.32},
{"g":"c12","dx":24,"dy":0,"D":0.32},{"g":"c12","dx":14,"dy":23,"D":0.3},{"g":"c12","dx":0,"dy":40,"D":0.25},{"g":"c12","dx":0,"dy":21,"D":0.1},{"g":"c12","dx":0,"dy":0,"D":0},{"g":"c12","dx":10,"dy":0,"D":0.17},
{"g":"c13","dx":12,"dy":0,"D":0.19},{"g":"c13","dx":0,"dy":20,"D":0.12},{"g":"c13","dx":0,"dy":0,"D":0},
{"g":"c14","dx":5,"dy":0,"D":0.08},{"g":"c14","dx":0,"dy":10,"D":0.05},{"g":"c14","dx":0,"dy":0,"D":0},
{"g":"d01","dx":0,"dy":0,"D":0},{"g":"d01","dx":15,"dy":0,"D":0.14},{"g":"d01","dx":35,"dy":0,"D":0.27},{"g":"d01","dx":57,"dy":0,"D":0.41},{"g":"d01","dx":94,"dy":0,"D":0.54},{"g":"d01","dx":123,"dy":0,"D":0.61},{"g":"d01","dx":155,"dy":0,"D":0.71},{"g":"d01","dx":209,"dy":0,"D":0.73},{"g":"d01","dx":234,"dy":0,"D":0.77},{"g":"d01","dx":264,"dy":0,"D":0.74},{"g":"d01","dx":300,"dy":0,"D":0.77},{"g":"d01","dx":300,"dy":40,"D":0.81},{"g":"d01","dx":300,"dy":84,"D":0.855},{"g":"d01","dx":300,"dy":129,"D":0.92},{"g":"d01","dx":300,"dy":163,"D":1.1},{"g":"d01","dx":300,"dy":198,"D":1.26},{"g":"d01","dx":300,"dy":236,"D":1.42},{"g":"d01","dx":300,"dy":268,"D":1.59},{"g":"d01","dx":300,"dy":298,"D":1.67},{"g":"d01","dx":275,"dy":300,"D":1.58},{"g":"d01","dx":241,"dy":300,"D":1.51},{"g":"d01","dx":211,"dy":300,"D":1.38},{"g":"d01","dx":187,"dy":300,"D":1.23},{"g":"d01","dx":162,"dy":300,"D":1.13},{"g":"d01","dx":137,"dy":300,"D":1.1},{"g":"d01","dx":88,"dy":300,"D":0.98},{"g":"d01","dx":48,"dy":300,"D":0.93},{"g":"d01","dx":0,"dy":300,"D":0.89},{"g":"d01","dx":0,"dy":218,"D":0.75},{"g":"d01","dx":0,"dy":155,"D":0.55},{"g":"d01","dx":0,"dy":114,"D":0.43},{"g":"d01","dx":0,"dy":73,"D":0.33},{"g":"d01","dx":0,"dy":41,"D":0.22},{"g":"d01","dx":0,"dy":19,"D":0.12},
{"g":"d02","dx":300,"dy":163,"D":1.1},{"g":"d02","dx":272,"dy":195,"D":1.1},{"g":"d02","dx":221,"dy":218,"D":1.1},{"g":"d02","dx":195,"dy":234,"D":1.1},{"g":"d02","dx":165,"dy":272,"D":1.1},{"g":"d02","dx":137,"dy":300,"D":1.1},{"g":"d02","dx":162,"dy":300,"D":1.13},{"g":"d02","dx":187,"dy":300,"D":1.23},{"g":"d02","dx":211,"dy":300,"D":1.38},{"g":"d02","dx":241,"dy":300,"D":1.51},{"g":"d02","dx":275,"dy":300,"D":1.58},{"g":"d02","dx":300,"dy":298,"D":1.67},{"g":"d02","dx":300,"dy":268,"D":1.59},{"g":"d02","dx":300,"dy":236,"D":1.42},{"g":"d02","dx":300,"dy":198,"D":1.26},
{"g":"d03","dx":300,"dy":185,"D":1.2},{"g":"d03","dx":237,"dy":238,"D":1.2},{"g":"d03","dx":180,"dy":300,"D":1.2},{"g":"d03","dx":187,"dy":300,"D":1.23},{"g":"d03","dx":211,"dy":300,"D":1.38},{"g":"d03","dx":241,"dy":300,"D":1.51},{"g":"d03","dx":275,"dy":300,"D":1.58},{"g":"d03","dx":300,"dy":298,"D":1.67},{"g":"d03","dx":300,"dy":268,"D":1.59},{"g":"d03","dx":300,"dy":236,"D":1.42},{"g":"d03","dx":300,"dy":198,"D":1.26},
{"g":"d04","dx":300,"dy":207,"D":1.3},{"g":"d04","dx":252,"dy":258,"D":1.3},{"g":"d04","dx":198,"dy":300,"D":1.3},{"g":"d04","dx":211,"dy":300,"D":1.38},{"g":"d04","dx":241,"dy":300,"D":1.51},{"g":"d04","dx":275,"dy":300,"D":1.58},{"g":"d04","dx":300,"dy":298,"D":1.67},{"g":"d04","dx":300,"dy":268,"D":1.59},{"g":"d04","dx":300,"dy":236,"D":1.42},
{"g":"d05","dx":300,"dy":232,"D":1.4},{"g":"d05","dx":264,"dy":273,"D":1.4},{"g":"d05","dx":216,"dy":300,"D":1.4},{"g":"d05","dx":241,"dy":300,"D":1.51},{"g":"d05","dx":275,"dy":300,"D":1.58},{"g":"d05","dx":300,"dy":298,"D":1.67},{"g":"d05","dx":300,"dy":268,"D":1.59},
{"g":"d06","dx":300,"dy":251,"D":1.5},{"g":"d06","dx":272,"dy":284,"D":1.5},{"g":"d06","dx":238,"dy":300,"D":1.5},{"g":"d06","dx":275,"dy":300,"D":1.58},{"g":"d06","dx":300,"dy":298,"D":1.67},{"g":"d06","dx":300,"dy":268,"D":1.59},
{"g":"d07","dx":300,"dy":281,"D":1.6},{"g":"d07","dx":285,"dy":300,"D":1.6},{"g":"d07","dx":300,"dy":298,"D":1.67},
{"g":"d08","dx":209,"dy":0,"D":0.73},{"g":"d08","dx":213,"dy":37,"D":0.7},{"g":"d08","dx":201,"dy":77,"D":0.7},{"g":"d08","dx":179,"dy":126,"D":0.7},{"g":"d08","dx":139,"dy":150,"D":0.7},{"g":"d08","dx":96,"dy":171,"D":0.7},{"g":"d08","dx":59,"dy":187,"D":0.7},{"g":"d08","dx":16,"dy":215,"D":0.7},{"g":"d08","dx":0,"dy":210,"D":0.7},{"g":"d08","dx":0,"dy":155,"D":0.55},{"g":"d08","dx":0,"dy":114,"D":0.43},{"g":"d08","dx":0,"dy":73,"D":0.33},{"g":"d08","dx":0,"dy":41,"D":0.22},{"g":"d08","dx":0,"dy":19,"D":0.12},{"g":"d08","dx":0,"dy":0,"D":0},{"g":"d08","dx":15,"dy":0,"D":0.14},{"g":"d08","dx":35,"dy":0,"D":0.27},{"g":"d08","dx":57,"dy":0,"D":0.41},{"g":"d08","dx":94,"dy":0,"D":0.54},{"g":"d08","dx":123,"dy":0,"D":0.61},{"g":"d08","dx":155,"dy":0,"D":0.71},
{"g":"d09","dx":155,"dy":0,"D":0.71},{"g":"d09","dx":166,"dy":46,"D":0.6},{"g":"d09","dx":141,"dy":89,"D":0.6},{"g":"d09","dx":97,"dy":121,"D":0.6},{"g":"d09","dx":57,"dy":145,"D":0.6},{"g":"d09","dx":0,"dy":155,"D":0.55},{"g":"d09","dx":0,"dy":114,"D":0.43},{"g":"d09","dx":0,"dy":73,"D":0.33},{"g":"d09","dx":0,"dy":41,"D":0.22},{"g":"d09","dx":0,"dy":19,"D":0.12},{"g":"d09","dx":0,"dy":0,"D":0},{"g":"d09","dx":15,"dy":0,"D":0.14},{"g":"d09","dx":35,"dy":0,"D":0.27},{"g":"d09","dx":57,"dy":0,"D":0.41},{"g":"d09","dx":94,"dy":0,"D":0.54},{"g":"d09","dx":123,"dy":0,"D":0.61},
{"g":"d10","dx":100,"dy":0,"D":0.55},{"g":"d10","dx":96,"dy":45,"D":0.5},{"g":"d10","dx":80,"dy":92,"D":0.5},{"g":"d10","dx":53,"dy":116,"D":0.5},{"g":"d10","dx":22,"dy":121,"D":0.5},{"g":"d10","dx":0,"dy":124,"D":0.47},{"g":"d10","dx":0,"dy":114,"D":0.43},{"g":"d10","dx":0,"dy":73,"D":0.33},{"g":"d10","dx":0,"dy":41,"D":0.22},{"g":"d10","dx":0,"dy":19,"D":0.12},{"g":"d10","dx":0,"dy":0,"D":0},{"g":"d10","dx":15,"dy":0,"D":0.14},{"g":"d10","dx":35,"dy":0,"D":0.27},{"g":"d10","dx":57,"dy":0,"D":0.41},{"g":"d10","dx":94,"dy":0,"D":0.54},
{"g":"d11","dx":52,"dy":0,"D":0.39},{"g":"d11","dx":57,"dy":44,"D":0.4},{"g":"d11","dx":38,"dy":78,"D":0.4},{"g":"d11","dx":10,"dy":91,"D":0.4},{"g":"d11","dx":0,"dy":95,"D":0.38},{"g":"d11","dx":0,"dy":73,"D":0.33},{"g":"d11","dx":0,"dy":41,"D":0.22},{"g":"d11","dx":0,"dy":19,"D":0.12},{"g":"d11","dx":0,"dy":0,"D":0},{"g":"d11","dx":15,"dy":0,"D":0.14},{"g":"d11","dx":35,"dy":0,"D":0.27},
{"g":"d12","dx":24,"dy":0,"D":0.2},{"g":"d12","dx":27,"dy":31,"D":0.3},{"g":"d12","dx":11,"dy":49,"D":0.3},{"g":"d12","dx":0,"dy":60,"D":0.3},{"g":"d12","dx":0,"dy":41,"D":0.22},{"g":"d12","dx":0,"dy":19,"D":0.12},{"g":"d12","dx":0,"dy":0,"D":0},{"g":"d12","dx":15,"dy":0,"D":0.14},
{"g":"d13","dx":16,"dy":0,"D":0.15},{"g":"d13","dx":10,"dy":12,"D":0.2},{"g":"d13","dx":0,"dy":30,"D":0.18},{"g":"d13","dx":0,"dy":19,"D":0.12},{"g":"d13","dx":0,"dy":0,"D":0},
{"g":"d14","dx":5,"dy":0,"D":0.05},{"g":"d14","dx":0,"dy":8,"D":0.05},{"g":"d14","dx":0,"dy":0,"D":0}
]},
"encoding":{"x":{"field":"px","type":"quantitative","scale":{"domain":[0,3538],"nice":false,"zero":false},"axis":null},"y":{"field":"py","type":"quantitative","scale":{"domain":[2236,0],"nice":false,"zero":false},"axis":null}},
"layer":[
{"data":{"name":"walls"},"transform":[{"calculate":"['a','b','c','d']","as":"p"},{"flatten":["p"]},{"calculate":"datum.p+datum.w","as":"id"},{"window":[{"op":"row_number","as":"i"}]},{"calculate":"P[datum.p]","as":"A"},{"calculate":"datum.A.ox+datum.dx/300*datum.A.xx+datum.dy/300*datum.A.yx","as":"px"},{"calculate":"datum.A.oy+datum.dx/300*datum.A.xy+datum.dy/300*datum.A.yy-datum.h*datum.A.zt*datum.A.u","as":"py"}],
"mark":{"type":"line","strokeWidth":0},"encoding":{"detail":{"field":"id"},"order":{"field":"i","type":"quantitative"},"fill":{"field":"w","type":"nominal","scale":{"domain":["floor","left","right"],"range":["#bdbdbd","#b2b2b2","#9c9c9c"]},"legend":null}}},
{"data":{"name":"grid"},"transform":[{"calculate":"['a','b','c','d']","as":"p"},{"flatten":["p"]},{"calculate":"P[datum.p]","as":"A"},{"calculate":"datum.A.ox+datum.a/300*datum.A.xx+datum.b/300*datum.A.yx","as":"px"},{"calculate":"datum.A.oy+datum.a/300*datum.A.xy+datum.b/300*datum.A.yy","as":"py"},{"calculate":"datum.A.ox+datum.e/300*datum.A.xx+datum.f/300*datum.A.yx","as":"px2"},{"calculate":"datum.A.oy+datum.e/300*datum.A.xy+datum.f/300*datum.A.yy-(datum.t?datum.A.zt*datum.A.u:0)","as":"py2"}],
"mark":{"type":"rule","color":"#707070","strokeWidth":2,"strokeDash":[2,7]},"encoding":{"x2":{"field":"px2"},"y2":{"field":"py2"}}},
{"data":{"name":"zgrid"},"transform":[{"calculate":"P[datum.p]","as":"A"},{"calculate":"datum.A.ox+datum.A.xx","as":"px"},{"calculate":"datum.A.oy+datum.A.xy-datum.v*datum.A.u","as":"py"},{"calculate":"datum.A.ox+datum.A.xx+datum.A.yx","as":"px2"},{"calculate":"datum.A.oy+datum.A.xy+datum.A.yy-datum.v*datum.A.u","as":"py2"}],
"mark":{"type":"rule","color":"#707070","strokeWidth":2,"strokeDash":[2,7]},"encoding":{"x2":{"field":"px2"},"y2":{"field":"py2"}}},
{"data":{"name":"zgrid"},"transform":[{"calculate":"P[datum.p]","as":"A"},{"calculate":"datum.A.ox+datum.A.yx","as":"px"},{"calculate":"datum.A.oy+datum.A.yy-datum.v*datum.A.u","as":"py"},{"calculate":"datum.A.ox+datum.A.xx+datum.A.yx","as":"px2"},{"calculate":"datum.A.oy+datum.A.xy+datum.A.yy-datum.v*datum.A.u","as":"py2"}],
"mark":{"type":"rule","color":"#707070","strokeWidth":2,"strokeDash":[2,7]},"encoding":{"x2":{"field":"px2"},"y2":{"field":"py2"}}},
{"data":{"name":"edges"},"transform":[{"calculate":"['a','b','c','d']","as":"p"},{"flatten":["p"]},{"calculate":"datum.p+datum.w","as":"id"},{"window":[{"op":"row_number","as":"i"}]},{"calculate":"P[datum.p]","as":"A"},{"calculate":"datum.A.ox+datum.dx/300*datum.A.xx+datum.dy/300*datum.A.yx","as":"px"},{"calculate":"datum.A.oy+datum.dx/300*datum.A.xy+datum.dy/300*datum.A.yy-datum.h*datum.A.zt*datum.A.u","as":"py"}],
"mark":{"type":"line","color":"#0a0a0a","strokeWidth":6,"strokeJoin":"miter"},"encoding":{"detail":{"field":"id"},"order":{"field":"i","type":"quantitative"}}},
{"data":{"name":"ticks"},"transform":[{"calculate":"['a','b','c','d']","as":"p"},{"flatten":["p"]},{"calculate":"P[datum.p]","as":"A"},{"calculate":"datum.A.ox+datum.a/300*datum.A.xx+datum.b/300*datum.A.yx","as":"px"},{"calculate":"datum.A.oy+datum.a/300*datum.A.xy+datum.b/300*datum.A.yy","as":"py"},{"calculate":"datum.A.ox+datum.e/300*datum.A.xx+datum.f/300*datum.A.yx","as":"px2"},{"calculate":"datum.A.oy+datum.e/300*datum.A.xy+datum.f/300*datum.A.yy","as":"py2"}],
"mark":{"type":"rule","color":"#0a0a0a","strokeWidth":3},"encoding":{"x2":{"field":"px2"},"y2":{"field":"py2"}}},
{"data":{"name":"surface"},"transform":[{"window":[{"op":"row_number","as":"i"}]},{"lookup":"g","from":{"data":{"name":"polys"},"key":"g","fields":["band"]}},{"calculate":"substring(datum.g,0,1)","as":"p"},{"calculate":"P[datum.p]","as":"A"},{"calculate":"(datum.band-datum.A.tlo)/(datum.A.thi-datum.A.tlo)","as":"tone"},{"calculate":"datum.A.ox+datum.dx/300*datum.A.xx+datum.dy/300*datum.A.yx","as":"px"},{"calculate":"datum.A.oy+datum.dx/300*datum.A.xy+datum.dy/300*datum.A.yy-datum.D*datum.A.u","as":"py"}],
"mark":{"type":"line","strokeWidth":0},"encoding":{"detail":{"field":"g"},"order":{"field":"i","type":"quantitative"},"fill":{"field":"tone","type":"quantitative","scale":{"domain":[0,0.25,0.47,0.6,0.75,1],"range":["#0000ff","#00ffff","#00ff00","#00ff00","#ffff00","#ff0000"],"interpolate":"rgb","clamp":true},"legend":null}}},
{"data":{"name":"surface"},"transform":[{"window":[{"op":"row_number","as":"i"}]},{"lookup":"g","from":{"data":{"name":"shades"},"key":"g","fields":["k"]}},{"filter":"isValid(datum.k)"},{"calculate":"substring(datum.g,0,1)","as":"p"},{"calculate":"P[datum.p]","as":"A"},{"calculate":"datum.A.ox+datum.dx/300*datum.A.xx+datum.dy/300*datum.A.yx","as":"px"},{"calculate":"datum.A.oy+datum.dx/300*datum.A.xy+datum.dy/300*datum.A.yy-datum.D*datum.A.u","as":"py"}],
"mark":{"type":"line","strokeWidth":0,"fill":"#000"},"encoding":{"detail":{"field":"g"},"order":{"field":"i","type":"quantitative"},"fillOpacity":{"field":"k","type":"quantitative","scale":null}}},
{"data":{"name":"panels"},"transform":[{"calculate":"P[datum.p].bx","as":"px"},{"calculate":"P[datum.p].by","as":"py"},{"calculate":"P[datum.p].bx2","as":"px2"},{"calculate":"P[datum.p].by2","as":"py2"}],
"mark":{"type":"rect","fill":"white","stroke":"#707070","strokeWidth":4},"encoding":{"x2":{"field":"px2"},"y2":{"field":"py2"}}},
{"data":{"name":"legband"},"transform":[{"calculate":"P[datum.p]","as":"A"},{"calculate":"((datum.lo+datum.hi)/2-datum.A.tlo)/(datum.A.thi-datum.A.tlo)","as":"tone"},{"calculate":"datum.A.lx","as":"px"},{"calculate":"datum.A.lx2","as":"px2"},{"calculate":"datum.A.l0-(datum.lo-datum.A.lv)*datum.A.lk","as":"py"},{"calculate":"datum.A.l0-(datum.hi-datum.A.lv)*datum.A.lk","as":"py2"}],
"mark":{"type":"rect","stroke":"#000","strokeOpacity":0.25,"strokeWidth":1.5},"encoding":{"x2":{"field":"px2"},"y2":{"field":"py2"},"fill":{"field":"tone","type":"quantitative","scale":{"domain":[0,0.25,0.47,0.6,0.75,1],"range":["#0000ff","#00ffff","#00ff00","#00ff00","#ffff00","#ff0000"],"interpolate":"rgb","clamp":true},"legend":null}}},
{"data":{"name":"leglab"},"transform":[{"calculate":"P[datum.p]","as":"A"},{"calculate":"datum.A.tx","as":"px"},{"calculate":"datum.A.l0-(datum.v-datum.A.lv)*datum.A.lk+8","as":"py"}],
"mark":{"type":"text","align":"left","baseline":"middle","fontSize":42},"encoding":{"text":{"field":"v","type":"nominal"}}},
{"data":{"name":"axlab"},"transform":[{"calculate":"['a','b','c','d']","as":"p"},{"flatten":["p"]},{"calculate":"P[datum.p]","as":"A"},{"calculate":"datum.A.ox+datum.v/300*datum.A.xx","as":"px"},{"calculate":"datum.A.oy+datum.v/300*datum.A.xy","as":"py"}],
"mark":{"type":"text","baseline":"middle","fontSize":42,"dx":-41,"dy":22},"encoding":{"text":{"field":"v","type":"nominal"}}},
{"data":{"name":"axlab"},"transform":[{"calculate":"['a','b','c','d']","as":"p"},{"flatten":["p"]},{"calculate":"P[datum.p]","as":"A"},{"calculate":"datum.A.ox+datum.v/300*datum.A.yx","as":"px"},{"calculate":"datum.A.oy+datum.v/300*datum.A.yy","as":"py"}],
"mark":{"type":"text","baseline":"middle","fontSize":42,"dx":42,"dy":21},"encoding":{"text":{"field":"v","type":"nominal"}}},
{"data":{"name":"panels"},"transform":[{"calculate":"0","as":"v"},{"calculate":"P[datum.p].ox","as":"px"},{"calculate":"P[datum.p].oy","as":"py"}],
"mark":{"type":"text","baseline":"middle","fontSize":42,"dx":-18,"dy":19},"encoding":{"text":{"field":"v","type":"nominal"}}},
{"data":{"name":"panels"},"transform":[{"calculate":"0","as":"v"},{"calculate":"P[datum.p].ox","as":"px"},{"calculate":"P[datum.p].oy","as":"py"}],
"mark":{"type":"text","baseline":"middle","fontSize":42,"dx":23,"dy":19},"encoding":{"text":{"field":"v","type":"nominal"}}},
{"data":{"name":"zlab"},"transform":[{"calculate":"P[datum.p]","as":"A"},{"calculate":"datum.A.ox+datum.A.xx","as":"px"},{"calculate":"datum.A.oy+datum.A.xy-datum.v*datum.A.u","as":"py"}],
"mark":{"type":"text","align":"right","baseline":"middle","fontSize":42,"dx":-12,"dy":4},"encoding":{"text":{"field":"v","type":"nominal"}}},
{"data":{"name":"titles"},"transform":[{"filter":"datum.k=='x'"},{"calculate":"P[datum.p].xtx","as":"px"},{"calculate":"P[datum.p].xty","as":"py"}],
"mark":{"type":"text","baseline":"middle","fontSize":48,"angle":21},"encoding":{"text":{"field":"t","type":"nominal"}}},
{"data":{"name":"titles"},"transform":[{"filter":"datum.k=='y'"},{"calculate":"P[datum.p].ytx","as":"px"},{"calculate":"P[datum.p].yty","as":"py"}],
"mark":{"type":"text","baseline":"middle","fontSize":48,"angle":-34},"encoding":{"text":{"field":"t","type":"nominal"}}},
{"data":{"name":"titles"},"transform":[{"filter":"datum.k=='z'"},{"calculate":"P[datum.p].ztx","as":"px"},{"calculate":"P[datum.p].zty","as":"py"}],
"mark":{"type":"text","baseline":"middle","fontSize":48,"angle":-90},"encoding":{"text":{"field":"t","type":"nominal"}}},
{"data":{"name":"panels"},"transform":[{"calculate":"P[datum.p].tagx","as":"px"},{"calculate":"P[datum.p].tagy","as":"py"}],
"mark":{"type":"text","baseline":"middle","fontSize":42},"encoding":{"text":{"field":"tag","type":"nominal"}}}
]}
